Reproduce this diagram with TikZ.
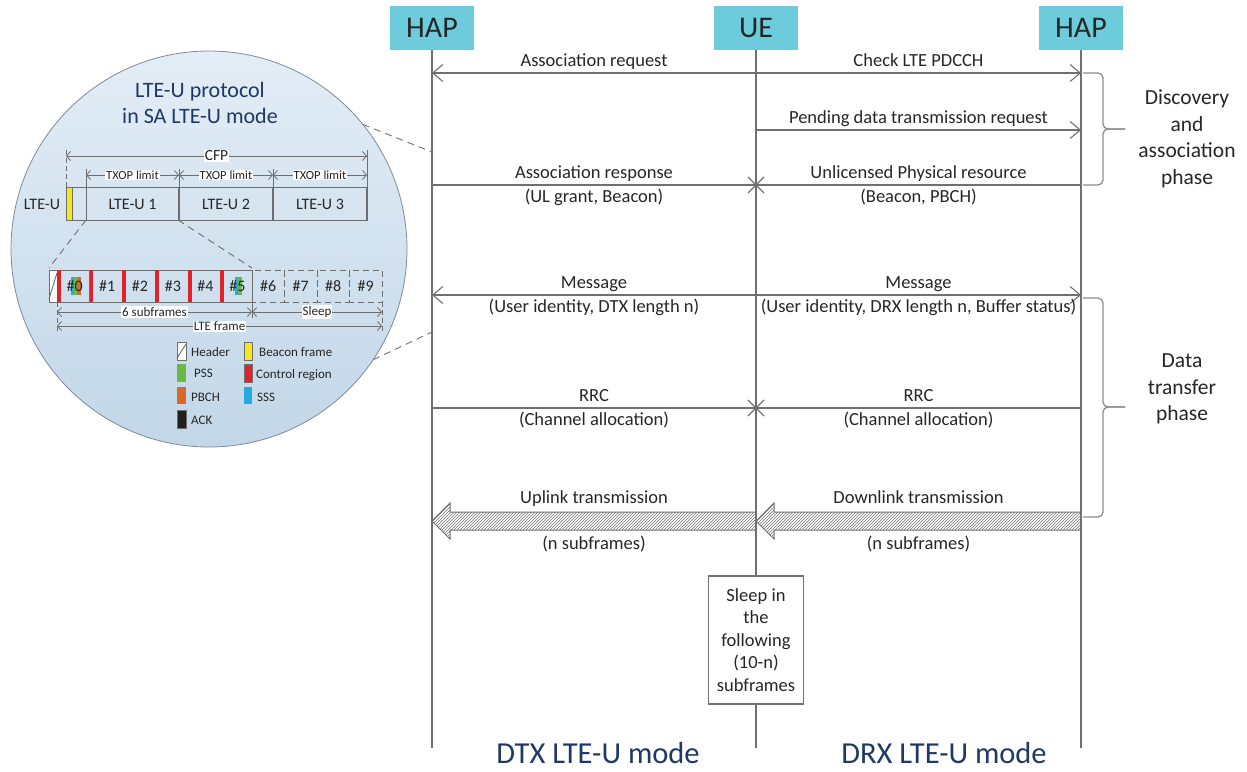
\documentclass[tikz,border=0pt]{standalone}
\usepackage{fontspec}
\setmainfont{Carlito}
\usetikzlibrary{arrows.meta,patterns,calc}

\definecolor{lifegray}{HTML}{707070}
\definecolor{cellgray}{HTML}{6E6E6E}
\definecolor{bracegray}{HTML}{8C8C8C}
\definecolor{hapcyan}{HTML}{6DCCDC}
\definecolor{navy}{HTML}{1F3864}
\definecolor{ink}{HTML}{262626}
\definecolor{lenstop}{HTML}{E3EDF6}
\definecolor{lensbot}{HTML}{C2D7E8}
\definecolor{lensrim}{HTML}{7D8C99}
\definecolor{beacon}{HTML}{F4E81C}
\definecolor{ctrl}{HTML}{E2222A}
\definecolor{pss}{HTML}{66BB46}
\definecolor{pbch}{HTML}{D8692A}
\definecolor{sss}{HTML}{27A9E1}
\definecolor{ack}{HTML}{231F20}

\tikzset{
  hdr/.style={fill=hapcyan, minimum width=84pt, minimum height=44pt, inner sep=0pt,
    outer sep=0pt, text=ink, font=\fontsize{30}{36}\selectfont},
  life/.style={draw=lifegray, line width=1.3pt},
  msg/.style={life, -{Straight Barb[length=10pt,width=17pt,line width=1.1pt]}},
  lbl/.style={font=\fontsize{18.5}{22}\selectfont, text=ink, text height=13pt, text depth=4pt},
  lblA/.style={lbl, above, inner sep=1.5pt},
  lblB/.style={lbl, below, inner sep=4pt},
  txa/.style={draw=lifegray, line width=1pt, pattern=north east lines, pattern color=lifegray},
  sleepbox/.style={draw=lifegray, line width=1.2pt, fill=white, minimum width=95pt,
    minimum height=128pt, inner sep=0pt, align=center, text=ink,
    font=\fontsize{18.5}{22.5}\selectfont},
  brace/.style={draw=bracegray, line width=1.3pt, rounded corners=5pt},
  phase/.style={align=center, text=ink, font=\fontsize{21.5}{26.5}\selectfont, inner sep=0pt},
  modelbl/.style={text=navy, font=\fontsize{30.5}{36}\selectfont, anchor=base, inner sep=0pt},
  lensdash/.style={draw=lifegray, line width=0.9pt, dash pattern=on 7pt off 5pt},
  cell/.style={draw=cellgray, line width=0.9pt},
  tick/.style={cell, dash pattern=on 5pt off 3pt},
  dimline/.style={draw=cellgray, line width=0.8pt,
    {Straight Barb[length=4pt,width=9pt]}-{Straight Barb[length=4pt,width=9pt]}},
  dimlbl/.style={fill=white, inner sep=1pt, text=ink, font=\fontsize{13}{15}\selectfont},
  cellfont/.style={text=ink, inner sep=0pt, font=\fontsize{16}{19}\selectfont},
  legfont/.style={text=ink, inner sep=0pt, anchor=west, font=\fontsize{13}{15}\selectfont},
  ttl/.style={text=navy, align=center, inner sep=0pt, font=\fontsize{22}{26}\selectfont},
}

% marker for a message that ends at the UE lifeline
\newcommand{\lostX}[1]{%
  \draw[life, line width=1.1pt] ([shift={(-8,-8)}]#1) -- ([shift={(8,8)}]#1)
    ([shift={(-8,8)}]#1) -- ([shift={(8,-8)}]#1);}

% wide hatched transmission arrow, tip at #1, tail at #2
\newcommand{\txarrow}[2]{%
  \filldraw[txa] (#1) -- ([shift={(18,18)}]#1) -- ([shift={(18,9)}]#1)
    -- ([shift={(0,9)}]#2) -- ([shift={(0,-9)}]#2) -- ([shift={(18,-9)}]#1)
    -- ([shift={(18,-18)}]#1) -- cycle;}

\begin{document}
\begin{tikzpicture}[x=1pt,y=-1pt]
\useasboundingbox (0,0) rectangle (1247,771);

% ---------- lens with the LTE-U frame structure ----------
\node[circle, draw=lensrim, line width=0.8pt, minimum size=396pt, inner sep=0pt,
  outer sep=0pt, top color=lenstop, bottom color=lensbot] (lens) at (209,249) {};

\node[ttl] (title) at (200,103) {LTE-U protocol\\in SA LTE-U mode};

% CFP and TXOP dimension lines
\draw[tick] (66,150) -- (66,187);
\draw[cell] (367,150) -- (367,187);
\foreach \x in {86,179,273} \draw[cell] (\x,169) -- (\x,187);
\draw[dimline] (66,156) -- node[dimlbl, font=\fontsize{15.5}{18}\selectfont] (cfp) {CFP} (367,156);
\draw[dimline] (86,175) -- node[dimlbl, font=\fontsize{12.5}{14}\selectfont] (tx1) {TXOP limit} (179,175);
\draw[dimline] (179,175) -- node[dimlbl, font=\fontsize{12.5}{14}\selectfont] (tx2) {TXOP limit} (273,175);
\draw[dimline] (273,175) -- node[dimlbl, font=\fontsize{12.5}{14}\selectfont] (tx3) {TXOP limit} (367,175);

% LTE-U period row
\draw[cell] (66,187) rectangle (367,220);
\filldraw[draw=cellgray, line width=0.9pt, fill=beacon] (66,187) rectangle (72,220);
\draw[cell] (86,187) -- (86,220);
\foreach \x in {179,273,367} \draw[cell, line width=2.2pt] (\x,187) -- (\x,220);
\node[cellfont] (ltelab) at (42,204) {LTE-U};
\node[cellfont] (lte1) at (132.5,204) {LTE-U 1};
\node[cellfont] (lte2) at (226,204) {LTE-U 2};
\node[cellfont] (lte3) at (320,204) {LTE-U 3};

% zoom from LTE-U 1 into the subframes
\draw[lensdash] (86,220) -- (49,268);
\draw[lensdash] (178,220) -- (252,268);

% subframe row
\filldraw[draw=cellgray, line width=0.9pt, fill=white] (49,270) rectangle (57,302);
\draw[cellgray, line width=0.9pt] (49,299) -- (57,273);
\foreach \i/\a/\b in {0/57/89.5, 1/89.5/122, 2/122/155, 3/155/188, 4/188/220, 5/220/252} {
  \draw[cell] (\a,270) rectangle (\b,302);
  \fill[ctrl] (\a,270) rectangle ++(3.5,32);
}
\fill[sss] (71,277) rectangle (73.5,295);
\fill[pss] (73.5,277) rectangle (76.5,295);
\fill[pbch] (76.5,277) rectangle (81,295);
\fill[sss] (235,277) rectangle (238,295);
\fill[pss] (238,277) rectangle (242,295);
\foreach \i/\a/\b in {0/57/89.5, 1/89.5/122, 2/122/155, 3/155/188, 4/188/220, 5/220/252}
  \node[cellfont] (sf\i) at ({(\a+\b)/2+1.5},286) {\#\i};
\foreach \i/\a/\b in {6/252/284.5, 7/284.5/317, 8/317/349.5, 9/349.5/382} {
  \draw[cell, dash pattern=on 6pt off 4pt] (\a,270) rectangle (\b,302);
  \node[cellfont] (sf\i) at ({(\a+\b)/2},286) {\#\i};
}

% subframe dimension lines
\draw[tick] (57,302) -- (57,332);
\draw[tick] (382,302) -- (382,332);
\draw[cell] (252,302) -- (252,318);
\draw[dimline] (57,312) -- node[dimlbl] (six) {6 subframes} (252,312);
\draw[dimline] (252,312) -- node[dimlbl] (slp) {Sleep} (382,312);
\draw[dimline] (57,326) -- node[dimlbl] (frm) {LTE frame} (382,326);

% legend
\filldraw[draw=cellgray, line width=0.9pt, fill=white] (177,342) rectangle (186,360);
\draw[cellgray, line width=0.9pt] (177,358) -- (186,344);
\node[legfont] (lgHeader) at (191,352) {Header};
\fill[pss] (177,364) rectangle (186,382);
\node[legfont] (lgPSS) at (194,373) {PSS};
\fill[pbch] (177,387) rectangle (186,404);
\node[legfont] (lgPBCH) at (191,397) {PBCH};
\filldraw[draw=cellgray, line width=0.9pt, fill=ack] (177,410) rectangle (186,428);
\node[legfont] (lgACK) at (191,420) {ACK};
\filldraw[draw=cellgray, line width=0.9pt, fill=beacon] (244,342) rectangle (252,360);
\node[legfont] (lgBeacon) at (259,352) {Beacon frame};
\filldraw[draw=cellgray, line width=0.9pt, fill=ctrl] (244,364) rectangle (252,382);
\node[legfont] (lgCtrl) at (256,375) {Control region};
\fill[sss] (244,387) rectangle (252,404);
\node[legfont] (lgSSS) at (257,397) {SSS};

% ---------- message sequence ----------
\node[hdr] (hapL) at (432,28) {HAP};
\node[hdr] (ue) at (756,28) {UE};
\node[hdr] (hapR) at (1081,28) {HAP};
\node[sleepbox] (sleep) at (756,640) {Sleep in\\the\\following\\(10-n)\\subframes};

\foreach \r/\yy in {req/73, pend/130, resp/185, msg/295, rrc/408, tx/521, bot/748} {
  \coordinate (L-\r) at (432,\yy);
  \coordinate (U-\r) at (756,\yy);
  \coordinate (R-\r) at (1081,\yy);
}
\coordinate (lensTop) at (432,152);
\coordinate (lensBot) at (432,332);

% lifelines
\draw[life] (hapL.south) -- (L-bot);
\draw[life] (ue.south) -- (sleep.north);
\draw[life] (sleep.south) -- (U-bot);
\draw[life] (hapR.south) -- (R-bot);

% lens projection onto the HAP lifeline
\draw[lensdash] (lens.39.7) -- (lensTop);
\draw[lensdash] (lens.-34.3) -- (lensBot);

% discovery and association
\draw[msg] (U-req) -- node[lblA] (mReq) {Association request} (L-req);
\draw[msg] (U-req) -- node[lblA] (mChk) {Check LTE PDCCH} (R-req);
\draw[msg] (U-pend) -- node[lblA] (mPend) {Pending data transmission request} (R-pend);
\draw[life] (L-resp) -- node[lblA] (mResp) {Association response}
  node[lblB] (mResp2) {(UL grant, Beacon)} (U-resp);
\draw[life] (R-resp) -- node[lblA] (mUnl) {Unlicensed Physical resource}
  node[lblB] (mUnl2) {(Beacon, PBCH)} (U-resp);
\lostX{U-resp}

% data transfer
\draw[msg] (U-msg) -- node[lblA] (mMsgL) {Message}
  node[lblB] (mMsgL2) {(User identity, DTX length n)} (L-msg);
\draw[msg] (U-msg) -- node[lblA] (mMsgR) {Message}
  node[lblB] (mMsgR2) {(User identity, DRX length n, Buffer status)} (R-msg);
\draw[life] (L-rrc) -- node[lblA] (mRrcL) {RRC}
  node[lblB] (mRrcL2) {(Channel allocation)} (U-rrc);
\draw[life] (R-rrc) -- node[lblA] (mRrcR) {RRC}
  node[lblB] (mRrcR2) {(Channel allocation)} (U-rrc);
\lostX{U-rrc}

\txarrow{L-tx}{U-tx}
\txarrow{U-tx}{R-tx}
\path (L-tx) -- node[lbl, above=13pt, inner sep=0pt] (upl) {Uplink transmission}
  node[lbl, below=15pt, inner sep=0pt] (upl2) {(n subframes)} (U-tx);
\path (U-tx) -- node[lbl, above=13pt, inner sep=0pt] (dnl) {Downlink transmission}
  node[lbl, below=15pt, inner sep=0pt] (dnl2) {(n subframes)} (R-tx);

% phase braces
\coordinate (b1top) at (1083,73);
\coordinate (b1bot) at (1083,185);
\coordinate (b1tip) at (1125,129);
\draw[brace] (b1top) -- (1103,73) -- (1103,129) -- (b1tip);
\draw[brace] (b1bot) -- (1103,185) -- (1103,129) -- (b1tip);
\node[phase] (ph1) at (1187,139) {Discovery\\and\\association\\phase};

\coordinate (b2top) at (1083,298);
\coordinate (b2bot) at (1083,517);
\coordinate (b2tip) at (1125,407);
\draw[brace] (b2top) -- (1103,298) -- (1103,407) -- (b2tip);
\draw[brace] (b2bot) -- (1103,517) -- (1103,407) -- (b2tip);
\node[phase] (ph2) at (1182,389) {Data\\transfer\\phase};

% mode captions
\node[modelbl] (dtx) at (598,763.5) {DTX LTE-U mode};
\node[modelbl] (drx) at (944,763.5) {DRX LTE-U mode};
\end{tikzpicture}
\end{document}
